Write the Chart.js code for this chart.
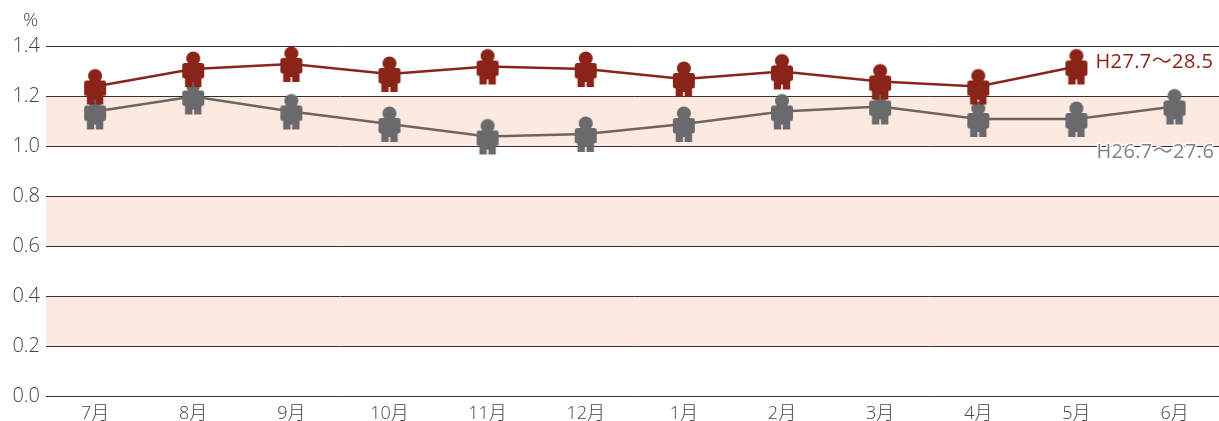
<!DOCTYPE html>
<html>
<head>
<meta charset="utf-8">
<style>
html,body{margin:0;padding:0;background:#fff;overflow:hidden;width:1219px;height:421px}
canvas{display:block}
</style>
<script src="https://cdn.jsdelivr.net/npm/chart.js@4/dist/chart.umd.min.js"></script>
</head>
<body>
<canvas id="c" width="1230" height="421"></canvas>
<script>
const months = ['7月','8月','9月','10月','11月','12月','1月','2月','3月','4月','5月','6月'];
const rateH27 = [1.24,1.31,1.33,1.29,1.32,1.31,1.27,1.30,1.26,1.24,1.32,null];
const rateH26 = [1.14,1.20,1.14,1.09,1.04,1.05,1.09,1.14,1.16,1.11,1.11,1.16];
const bands = [[1.0,1.2],[0.6,0.8],[0.2,0.4]];
const nameH27 = 'H27.7～28.5';
const nameH26 = 'H26.7～27.6';
const unit = '%';

const FONT = '"Open Sans","Noto Sans CJK JP",sans-serif';

// Person-shaped point marker; the canvas centre sits on the data point.
function person(color){
  const c = document.createElement('canvas');
  c.width = 26; c.height = 44;
  const g = c.getContext('2d');
  g.fillStyle = color;
  g.translate(13,22);
  g.beginPath(); g.arc(0,-10.5,7,0,Math.PI*2); g.fill();
  g.beginPath();
  g.roundRect(-11,-6,22,15.5,2.5); g.fill();
  g.beginPath();
  g.moveTo(-8.2,5); g.lineTo(8.2,5); g.lineTo(8.2,18); g.lineTo(0.8,18);
  g.lineTo(0.8,13); g.lineTo(-0.8,13); g.lineTo(-0.8,18); g.lineTo(-8.2,18);
  g.closePath(); g.fill();
  return c;
}

const RED = '#8a2318', GREY = '#6a6a6e';

const decor = {
  id:'decor',
  beforeDatasetsDraw(chart){
    const {ctx,chartArea:a,scales:{y}} = chart;
    ctx.save();
    ctx.fillStyle = '#fce9df';
    bands.forEach(([lo,hi])=>{
      const t = y.getPixelForValue(hi), b = y.getPixelForValue(lo);
      ctx.fillRect(a.left,t,a.right-a.left,b-t);
    });
    ctx.strokeStyle = '#333';
    ctx.lineWidth = 1;
    y.ticks.forEach(tk=>{
      const p = Math.floor(y.getPixelForValue(tk.value))+0.5;
      ctx.beginPath(); ctx.moveTo(a.left,p); ctx.lineTo(a.right,p); ctx.stroke();
    });
    ctx.restore();
  },
  afterDatasetsDraw(chart){
    const {ctx,scales:{x,y}} = chart;
    ctx.save();
    ctx.textBaseline = 'middle';
    ctx.textAlign = 'left';
    ctx.font = '300 19px '+FONT;
    ctx.fillStyle = '#444';
    ctx.fillText(unit,23,21);
    ctx.font = '400 20px '+FONT;
    ctx.letterSpacing = '0.4px';
    ctx.fillStyle = RED;
    ctx.fillText(nameH27,x.getPixelForValue(10)+19,y.getPixelForValue(1.32)-4);
    const gx = x.getPixelForValue(10)+20, gy = y.getPixelForValue(1.0)+6;
    ctx.lineWidth = 3;
    ctx.strokeStyle = '#fff';
    ctx.lineJoin = 'round';
    ctx.strokeText(nameH26,gx,gy);
    ctx.fillStyle = '#808285';
    ctx.fillText(nameH26,gx,gy);
    ctx.restore();
  }
};

new Chart(document.getElementById('c'),{
  type:'line',
  data:{
    labels:months,
    datasets:[
      {label:nameH27,data:rateH27,borderColor:RED,backgroundColor:RED,borderWidth:2.4,
       pointStyle:person(RED),tension:0,order:1,spanGaps:false},
      {label:nameH26,data:rateH26,borderColor:'#6e6563',backgroundColor:GREY,borderWidth:2.4,
       pointStyle:person(GREY),tension:0,order:2}
    ]
  },
  plugins:[decor],
  options:{
    responsive:false,
    animation:false,
    devicePixelRatio:1,
    layout:{padding:{top:46.5,right:0,bottom:0,left:0}},
    plugins:{legend:{display:false},tooltip:{enabled:false}},
    scales:{
      x:{
        offset:true,
        grid:{display:false,drawTicks:false},border:{display:false},
        ticks:{color:'#444',font:{family:FONT,size:18,weight:'300'},maxRotation:0,autoSkip:false,padding:7},
        afterFit(s){s.height=24.5;s.paddingLeft=0;s.paddingRight=0}
      },
      y:{
        min:0,max:1.4,
        grid:{display:false,drawTicks:false},border:{display:false},
        ticks:{stepSize:0.2,color:'#444',font:{family:FONT,size:20,weight:'300'},padding:6,
               callback:v=>v.toFixed(1)},
        afterFit(s){s.width=46}
      }
    }
  }
});
</script>
</body>
</html>
